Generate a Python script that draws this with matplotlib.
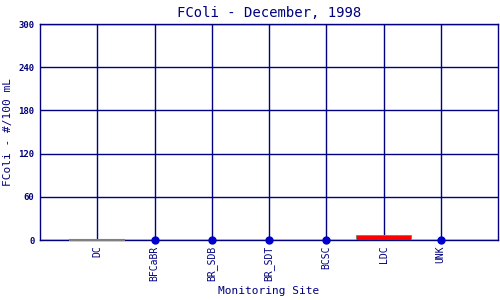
import matplotlib
matplotlib.use("Agg")
import matplotlib.pyplot as plt

# data
sites = ["DC", "BFCaBR", "BR_SDB", "BR_SDT", "BCSC", "LDC", "UNK"]
bar_sites = ["DC", "LDC"]
bar_values = [0, 7]
bar_colors = ["#808080", "#ff0000"]
dot_sites = ["BFCaBR", "BR_SDB", "BR_SDT", "BCSC", "UNK"]
dot_values = [0, 0, 0, 0, 0]

navy = "#000080"
plt.rcParams["font.family"] = "DejaVu Sans Mono"

fig = plt.figure(figsize=(5, 3), dpi=100)
ax = fig.add_axes([0.08, 0.2, 0.916, 0.72])

pos = {s: i + 1 for i, s in enumerate(sites)}

# bars
for s, v, c in zip(bar_sites, bar_values, bar_colors):
    ax.bar(pos[s], v, width=0.95, color=c, edgecolor="#808080", linewidth=0.7, zorder=3)
    if v == 0:
        ax.plot([pos[s] - 0.475, pos[s] + 0.475], [0, 0], color="#808080", lw=1.5, zorder=4, clip_on=False)

# dots
ax.plot([pos[s] for s in dot_sites], dot_values, "o", color="#0000cc", markersize=5,
        linestyle="none", zorder=5, clip_on=False)

ax.set_xlim(0, 8)
ax.set_ylim(0, 300)
ax.set_xticks(range(1, 8))
ax.set_xticklabels(sites, rotation=90, fontsize=7, color=navy)
ax.set_yticks([0, 60, 120, 180, 240, 300])
ax.set_yticklabels(["0", "60", "120", "180", "240", "300"], fontsize=6.5, color=navy, fontweight="bold")
ax.tick_params(length=0, pad=4)
ax.grid(True, color=navy, lw=1, zorder=1)
for sp in ax.spines.values():
    sp.set_color(navy)
    sp.set_linewidth(1)

ax.set_title("FColi - December, 1998", color=navy, fontsize=10, pad=5)
ax.set_xlabel("Monitoring Site", color=navy, fontsize=8)
ax.set_ylabel("FColi - #/100 mL", color=navy, fontsize=8)

fig.savefig("out.png", dpi=100)
